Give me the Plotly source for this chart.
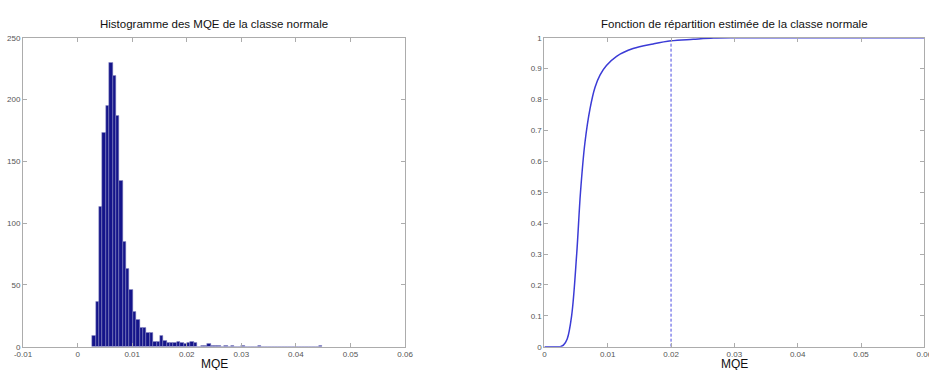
import plotly.graph_objects as go

# ---- data ----
bin_start = 0.0030
bin_width = 0.00062
hist_counts = [9, 36, 113, 173, 195, 230, 219, 187, 134, 85,
               63, 46, 28, 22, 15, 15, 11, 11, 4, 4,
               9, 5, 3, 3, 3, 4, 3, 2, 3, 4,
               3, 0, 1, 1, 2, 1, 1, 1, 0, 1,
               0, 1, 0, 0, 1, 0, 0, 0, 0, 1,
               0, 0, 0, 0, 0, 0, 0, 0, 0, 0,
               0, 0, 0, 0, 0, 0, 0, 1]
hist_centers = [bin_start + i * bin_width for i in range(len(hist_counts))]

cdf_x = [0.0, 0.0016, 0.0025, 0.0030, 0.0036, 0.0043, 0.0051, 0.0057, 0.0064,
         0.0072, 0.0080, 0.0088, 0.0098, 0.0114, 0.0140, 0.0172, 0.0200,
         0.0235, 0.0267, 0.0304, 0.0450, 0.0600]
cdf_y = [0.0, 0.0, 0.0, 0.005, 0.025, 0.10, 0.30, 0.50, 0.66,
         0.77, 0.84, 0.88, 0.91, 0.94, 0.965, 0.98, 0.99,
         0.995, 0.999, 1.0, 1.0, 1.0]
threshold_x = 0.02
threshold_y = 0.99

left_xticks = [-0.01, 0, 0.01, 0.02, 0.03, 0.04, 0.05, 0.06]
left_xlabels = ["-0.01", "0", "0.01", "0.02", "0.03", "0.04", "0.05", "0.06"]
left_yticks = [0, 50, 100, 150, 200, 250]
right_xticks = [0, 0.01, 0.02, 0.03, 0.04, 0.05, 0.06]
right_xlabels = ["0", "0.01", "0.02", "0.03", "0.04", "0.05", "0.06"]
right_yticks = [0, 0.1, 0.2, 0.3, 0.4, 0.5, 0.6, 0.7, 0.8, 0.9, 1]
right_ylabels = ["0", "0.1", "0.2", "0.3", "0.4", "0.5", "0.6", "0.7", "0.8", "0.9", "1"]

title_left = "Histogramme des MQE de la classe normale"
title_right = "Fonction de répartition estimée de la classe normale"
xlabel = "MQE"

# ---- figure ----
W, H = 929, 370

fig = go.Figure()
fig.add_trace(go.Bar(x=hist_centers, y=hist_counts, width=bin_width,
                     marker=dict(color="#15158a", line=dict(color="#8c8cc4", width=0.5)),
                     xaxis="x", yaxis="y", showlegend=False))
fig.add_trace(go.Scatter(x=cdf_x, y=cdf_y, mode="lines", line=dict(color="#3b3bd6", width=1.5, shape="spline"),
                         xaxis="x2", yaxis="y2", showlegend=False))
fig.add_trace(go.Scatter(x=[threshold_x, threshold_x], y=[0, threshold_y], mode="lines",
                         line=dict(color="#4a4ae0", width=1, dash="3px,2px"),
                         xaxis="x2", yaxis="y2", showlegend=False))

axcommon = dict(showline=True, mirror="ticks", ticks="inside", ticklen=4,
                linecolor="#acacac", tickcolor="#acacac", linewidth=1,
                showgrid=False, zeroline=False, automargin=False,
                ticklabeloverflow="allow",
                tickfont=dict(family="Liberation Sans, Arial", size=8, color="#555555"))

ydom = [0.063, 0.898]
fig.update_layout(
    width=W, height=H,
    margin=dict(l=0, r=0, t=0, b=0),
    paper_bgcolor="white", plot_bgcolor="white",
    bargap=0,
    xaxis=dict(domain=[0.0248, 0.436], range=[-0.01, 0.06], tickvals=left_xticks,
               ticktext=left_xlabels, anchor="y", **axcommon),
    yaxis=dict(domain=ydom, range=[0, 250], tickvals=left_yticks, anchor="x", **axcommon),
    xaxis2=dict(domain=[0.586, 0.9950], range=[0, 0.06], tickvals=right_xticks,
                ticktext=right_xlabels, anchor="y2", **axcommon),
    yaxis2=dict(domain=ydom, range=[0, 1], tickvals=right_yticks, ticktext=right_ylabels,
                anchor="x2", **axcommon),
)

tfont = dict(family="Liberation Sans, Arial", size=11.5, color="#111111")
fig.add_annotation(text=title_left, x=0.2304, y=(370 - 24) / 370, xref="paper", yref="paper",
                   showarrow=False, xanchor="center", yanchor="middle", font=tfont)
fig.add_annotation(text=title_right, x=0.7908, y=(370 - 24) / 370, xref="paper", yref="paper",
                   showarrow=False, xanchor="center", yanchor="middle", font=tfont)
lfont = dict(family="Liberation Sans, Arial", size=12, color="#111111")
fig.add_annotation(text=xlabel, x=0.2304, y=(370 - 364) / 370, xref="paper", yref="paper",
                   showarrow=False, xanchor="center", yanchor="middle", font=lfont)
fig.add_annotation(text=xlabel, x=0.7908, y=(370 - 364) / 370, xref="paper", yref="paper",
                   showarrow=False, xanchor="center", yanchor="middle", font=lfont)

fig.write_html("out.html", config={"displayModeBar": False},
               post_script="document.body.style.margin='0';document.body.style.overflow='hidden';")
